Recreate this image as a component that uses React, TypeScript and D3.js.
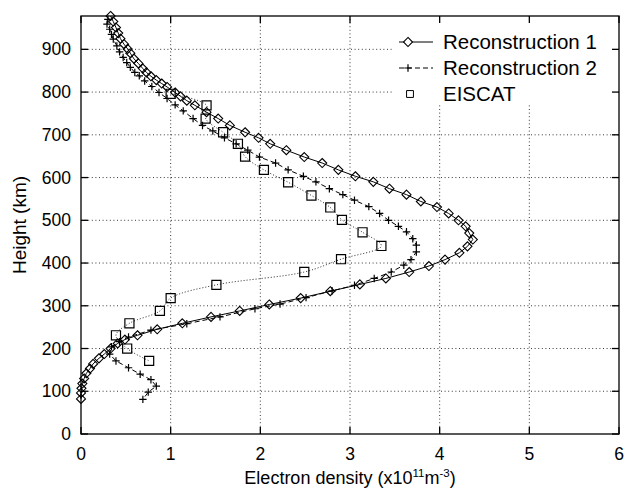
import React from "react";
import * as d3 from "d3";

// [density (x10^11 m^-3), height (km)]
const recon1: [number, number][] = [
  [0.33, 978], [0.36, 965], [0.39, 951], [0.415, 938], [0.44, 925], [0.48, 912],
  [0.52, 901], [0.55, 891], [0.59, 878], [0.64, 867], [0.69, 855], [0.73, 846],
  [0.78, 837], [0.84, 828], [0.9, 820], [0.96, 812], [1.05, 799], [1.11, 790],
  [1.18, 780], [1.27, 769], [1.4, 753], [1.53, 738], [1.66, 722], [1.83, 706],
  [1.98, 693], [2.11, 679], [2.29, 664], [2.49, 648], [2.69, 634], [2.87, 618],
  [3.06, 603], [3.26, 590], [3.44, 574], [3.63, 560], [3.79, 544], [3.97, 531],
  [4.1, 516], [4.21, 500], [4.29, 486], [4.33, 470], [4.37, 455], [4.31, 439],
  [4.22, 424], [4.06, 408], [3.88, 393], [3.66, 379], [3.4, 364], [3.11, 350],
  [2.78, 334], [2.45, 318], [2.1, 303], [1.77, 288], [1.45, 274], [1.13, 259],
  [0.85, 245], [0.63, 231], [0.49, 221], [0.41, 212], [0.33, 200], [0.26, 187],
  [0.2, 177], [0.135, 164], [0.1, 153], [0.06, 142], [0.035, 130], [0.015, 118],
  [0.005, 107], [0.0, 96], [0.0, 82],
];

const recon2: [number, number][] = [
  [0.3, 970], [0.29, 959], [0.32, 947], [0.34, 935], [0.36, 924], [0.4, 908],
  [0.43, 894], [0.47, 881], [0.51, 869], [0.55, 858], [0.6, 846], [0.65, 838],
  [0.71, 826], [0.79, 813], [0.87, 799], [0.96, 785], [1.05, 770], [1.14, 756],
  [1.25, 738], [1.355, 722], [1.47, 709], [1.6, 693], [1.73, 679], [1.86, 664],
  [1.99, 648], [2.17, 634], [2.31, 618], [2.48, 603], [2.62, 590], [2.77, 574],
  [2.92, 560], [3.05, 547], [3.21, 532], [3.33, 516], [3.43, 500], [3.54, 486],
  [3.63, 473], [3.7, 457], [3.74, 442], [3.74, 426], [3.68, 408], [3.6, 395],
  [3.46, 379], [3.27, 364], [3.05, 348], [2.8, 335], [2.51, 319], [2.22, 304],
  [1.94, 293], [1.55, 274], [1.18, 258], [0.78, 243], [0.53, 227], [0.43, 216],
  [0.34, 204], [0.32, 187], [0.39, 171], [0.53, 155], [0.66, 140], [0.78, 127],
  [0.84, 112], [0.75, 98], [0.69, 81],
];

const eiscat: [number, number][] = [
  [1.0, 796], [1.4, 769], [1.39, 738], [1.585, 706], [1.75, 679], [1.83, 649],
  [2.04, 618], [2.31, 589], [2.57, 558], [2.78, 530], [2.91, 501], [3.14, 472],
  [3.35, 440], [2.9, 409], [2.49, 379], [1.51, 349], [1.0, 318], [0.88, 288],
  [0.54, 259], [0.39, 231], [0.515, 200], [0.76, 171],
];

const xTicks = [0, 1, 2, 3, 4, 5, 6];
const yTicks = [0, 100, 200, 300, 400, 500, 600, 700, 800, 900];
const legendLabels = ["Reconstruction 1", "Reconstruction 2", "EISCAT"];

const W = 629;
const H = 489;
const left = 81;
const right = 619;
const top = 16;
const bottom = 434;
const font = "'Liberation Sans', Arial, Helvetica, sans-serif";

const x = d3.scaleLinear().domain([0, 6]).range([left, right]);
const y = d3.scaleLinear().domain([0, 978]).range([bottom, top]);

const line = d3
  .line<[number, number]>()
  .x((d) => x(d[0]))
  .y((d) => y(d[1]));

const smoothLine = d3
  .line<[number, number]>()
  .x((d) => x(d[0]))
  .y((d) => y(d[1]))
  .curve(d3.curveCatmullRom.alpha(0.5));

const diamond = d3.symbol(d3.symbolDiamond2, 52)() as string;
const plus = d3.symbol(d3.symbolPlus, 20)() as string;
const square = d3.symbol(d3.symbolSquare2, 105)() as string;

const App: React.FC = () => {
  const tick = 7;
  const legX0 = 399;
  const legX1 = 433;
  const legMark = 408;
  const legRows = [42, 68, 94];

  return (
    <svg
      width={W}
      height={H}
      style={{ position: "fixed", left: 0, top: 0, background: "#fff" }}
      fontFamily={font}
    >
      <rect width={W} height={H} fill="#fff" />

      {/* grid */}
      <g stroke="#222" strokeWidth={0.9} strokeDasharray="1,2.6">
        {xTicks.slice(1, -1).map((t) => (
          <line key={"gx" + t} x1={x(t)} x2={x(t)} y1={bottom} y2={top} />
        ))}
        {yTicks.slice(1).map((t) => (
          <line key={"gy" + t} x1={left} x2={right} y1={y(t)} y2={y(t)} />
        ))}
      </g>

      {/* legend background */}
      <rect x={393} y={top + 1} width={right - 394} height={87} fill="#fff" />

      {/* EISCAT */}
      <path
        d={smoothLine(eiscat) as string}
        fill="none"
        stroke="#111"
        strokeWidth={0.9}
        strokeDasharray="1,2"
      />
      {eiscat.map((d, i) => (
        <path
          key={"e" + i}
          d={square}
          transform={`translate(${x(d[0])},${y(d[1])})`}
          fill="none"
          stroke="#000"
          strokeWidth={1.2}
        />
      ))}

      {/* Reconstruction 2 */}
      <path
        d={line(recon2) as string}
        fill="none"
        stroke="#000"
        strokeWidth={1}
        strokeDasharray="5,3"
      />
      {recon2.map((d, i) => (
        <path
          key={"r2" + i}
          d={plus}
          transform={`translate(${x(d[0])},${y(d[1])})`}
          fill="none"
          stroke="#000"
          strokeWidth={1.2}
        />
      ))}

      {/* Reconstruction 1 */}
      <path d={line(recon1) as string} fill="none" stroke="#000" strokeWidth={1} />
      {recon1.map((d, i) => (
        <path
          key={"r1" + i}
          d={diamond}
          transform={`translate(${x(d[0])},${y(d[1])})`}
          fill="none"
          stroke="#000"
          strokeWidth={1.1}
        />
      ))}

      {/* frame and ticks */}
      <rect
        x={left}
        y={top}
        width={right - left}
        height={bottom - top}
        fill="none"
        stroke="#000"
        strokeWidth={1.3}
      />
      <g stroke="#000" strokeWidth={1.3}>
        {xTicks.map((t) => (
          <g key={"tx" + t}>
            <line x1={x(t)} x2={x(t)} y1={bottom} y2={bottom - tick} />
            <line x1={x(t)} x2={x(t)} y1={top} y2={top + tick} />
          </g>
        ))}
        {yTicks.map((t) => (
          <g key={"ty" + t}>
            <line x1={left} x2={left + tick} y1={y(t)} y2={y(t)} />
            <line x1={right} x2={right - tick} y1={y(t)} y2={y(t)} />
          </g>
        ))}
      </g>

      {/* tick labels */}
      <g fontSize={17.5} fill="#000">
        {xTicks.map((t) => (
          <text key={"lx" + t} x={x(t)} y={bottom + 26} textAnchor="middle">
            {t}
          </text>
        ))}
        {yTicks.map((t) => (
          <text key={"ly" + t} x={left - 10} y={y(t) + 6} textAnchor="end">
            {t}
          </text>
        ))}
      </g>

      {/* axis titles */}
      <text
        fontSize={19}
        textAnchor="middle"
        transform={`translate(26,${(top + bottom) / 2}) rotate(-90)`}
      >
        Height (km)
      </text>
      <text fontSize={18} x={(left + right) / 2} y={484} textAnchor="middle">
        Electron density (x10
        <tspan fontSize={11.5} dy={-7}>
          11
        </tspan>
        <tspan dy={7}>m</tspan>
        <tspan fontSize={11.5} dy={-7}>
          -3
        </tspan>
        <tspan dy={7}>)</tspan>
      </text>

      {/* legend */}
      <g>
        <line x1={legX0} x2={legX1} y1={legRows[0]} y2={legRows[0]} stroke="#000" strokeWidth={1} />
        <path d={diamond} transform={`translate(${legMark},${legRows[0]})`} fill="#fff" stroke="#000" strokeWidth={1.1} />
        <line x1={legX0} x2={legX1} y1={legRows[1]} y2={legRows[1]} stroke="#000" strokeWidth={1} strokeDasharray="5,3" />
        <path d={plus} transform={`translate(${legMark},${legRows[1]})`} fill="none" stroke="#000" strokeWidth={1.2} />
        <path d={d3.symbol(d3.symbolSquare2, 60)() as string} transform={`translate(${legMark + 2},${legRows[2]})`} fill="none" stroke="#000" strokeWidth={1} />
        {legendLabels.map((l, i) => (
          <text key={l} x={443} y={legRows[i] + 7} fontSize={20.5}>
            {l}
          </text>
        ))}
      </g>
    </svg>
  );
};

export default App;
